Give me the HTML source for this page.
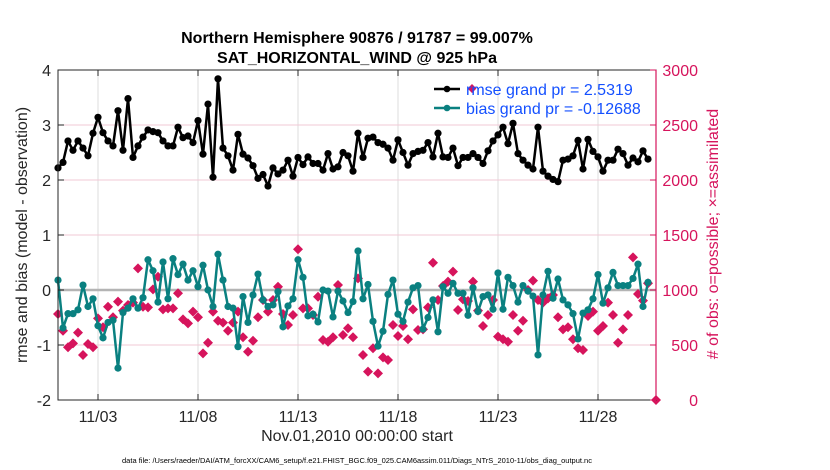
<!DOCTYPE html>
<html><head><meta charset="utf-8"><style>
body{margin:0;background:#fff;}
svg{display:block;font-family:"Liberation Sans",Arial,sans-serif;}
</style></head><body>
<svg id="chart" width="830" height="470" viewBox="0 0 830 470" xmlns="http://www.w3.org/2000/svg">
<rect width="830" height="470" fill="#fff"/>
<g id="grid"></g>
<g id="marks"></g>
<g id="axes"></g>
</svg>
<script>
const rmseVals=[2.22,2.32,2.71,2.54,2.71,2.58,2.44,2.85,3.14,2.86,2.71,2.62,3.26,2.54,3.48,2.41,2.62,2.78,2.91,2.88,2.86,2.71,2.62,2.62,2.96,2.77,2.80,2.68,3.08,2.47,3.38,2.05,3.84,2.58,2.44,2.18,2.83,2.47,2.40,2.26,2.03,2.10,1.89,2.22,2.11,2.18,2.36,2.07,2.41,2.28,2.42,2.30,2.30,2.18,2.48,2.20,2.24,2.50,2.44,2.16,2.85,
2.41,2.76,2.78,2.68,2.65,2.58,2.36,2.73,2.50,2.27,2.48,2.52,2.54,2.68,2.42,2.85,2.42,2.41,2.58,2.26,2.41,2.41,2.48,2.41,2.30,2.53,2.71,2.82,2.96,2.66,3.03,2.48,2.36,2.27,2.20,2.96,2.16,2.07,2.01,1.97,2.36,2.38,2.44,2.72,2.20,2.74,2.52,2.42,2.16,2.36,2.36,2.56,2.48,2.27,2.40,2.33,2.53,2.38];
const biasVals=[0.18,-0.69,-0.43,-0.43,-0.36,0.09,-0.30,-0.16,-0.65,-0.87,-0.59,-0.55,-1.42,-0.41,-0.33,-0.16,-0.33,-0.14,0.55,0.35,-0.22,0.51,-0.16,0.57,0.28,0.47,0.18,0.35,0.06,0.45,0.00,-0.30,0.65,0.18,-0.30,-0.33,-1.03,-0.12,-0.59,-0.09,0.29,-0.18,-0.30,-0.27,-0.03,-0.67,-0.29,-0.16,0.55,0.23,-0.47,-0.44,-0.58,0.00,-0.02,-0.49,-0.02,-0.20,-0.41,-0.21,0.71,
-0.16,0.10,-0.57,-1.02,-0.75,-0.08,0.18,-0.44,-0.57,-0.22,0.04,0.08,-0.71,-0.50,-0.18,-0.76,0.06,-0.06,0.12,-0.06,-0.06,-0.46,0.04,-0.39,-0.12,-0.09,-0.35,0.31,-0.35,0.23,0.08,-0.22,0.08,-0.02,-0.11,-1.18,-0.09,0.34,-0.15,0.20,-0.18,-0.27,-0.43,-0.89,-0.42,-0.36,-0.16,0.28,-0.24,0.04,0.32,0.08,0.08,0.08,0.21,0.47,-0.30,0.14];
const obsUsed=[782,630,479,515,612,409,509,479,742,661,848,752,894,812,864,885,1197,848,842,1006,1121,824,833,833,970,733,697,803,752,424,521,803,721,703,630,703,803,570,439,539,752,909,803,909,1030,782,682,773,1370,833,833,773,939,545,530,570,1045,591,652,570,1106,
409,258,470,242,388,364,682,582,673,552,824,636,642,842,1248,909,1036,1076,1167,818,915,900,1076,812,673,773,909,576,552,530,773,630,721,1000,1085,909,885,924,955,752,642,661,552,470,455,764,803,630,673,885,773,521,642,773,1297,964,903,1061];
const xTickLabels=["11/03","11/08","11/13","11/18","11/23","11/28"];
const xTickDays=[2,7,12,17,22,27];
const yLeftTicks=[4,3,2,1,0,-1,-2];
const yRightTicks=[3000,2500,2000,1500,1000,500,0];

const NS="http://www.w3.org/2000/svg";
const X0=58,X1=656,YT=70,YB=400;
const dayMin=0,dayMax=29.9;
function xs(d){return X0+(d-dayMin)/(dayMax-dayMin)*(X1-X0);}
function yl(v){return YB-(v+2)/6*(YB-YT);}
function yr(v){return YB-v/3000*(YB-YT);}
function mk(tag,attrs,parent,text){const e=document.createElementNS(NS,tag);for(const k in attrs)e.setAttribute(k,attrs[k]);if(text!==undefined)e.textContent=text;parent.appendChild(e);return e;}
const grid=document.getElementById('grid'),marks=document.getElementById('marks'),axes=document.getElementById('axes');
const MAG="#d6145c",TEAL="#0a8080";

xTickDays.forEach(d=>{const l=mk('line',{x1:xs(d),x2:xs(d),y1:YT,y2:YB,stroke:'#dcdcdc','stroke-width':1},grid);

});
yRightTicks.forEach(v=>{if(v===0||v===3000)return;const l=mk('line',{x1:X0,x2:X1,y1:yr(v),y2:yr(v),stroke:'#f2c8d6','stroke-width':1},grid);

});
const zl=mk('line',{x1:X0,x2:X1,y1:yl(0),y2:yl(0),stroke:'#b4b4b4','stroke-width':2.5},grid);



const dg=mk('g',{},marks);


obsUsed.forEach((v,i)=>{const x=xs(i*0.25),y=yr(v);
const p=mk('path',{d:`M${x} ${y-5}L${x+5} ${y}L${x} ${y+5}L${x-5} ${y}Z`,fill:MAG},dg);

});
const lastD=mk('path',{d:`M${X1} ${YB-5}L${X1+5} ${YB}L${X1} ${YB+5}L${X1-5} ${YB}Z`,fill:MAG},dg);



function series(vals,color,name){
const pts=vals.map((v,i)=>xs(i*0.25)+','+yl(v)).join(' ');
const g=mk('g',{},marks);


mk('polyline',{points:pts,fill:'none',stroke:color,'stroke-width':2.5,'stroke-linejoin':'round'},g);
vals.forEach((v,i)=>{const c=mk('circle',{cx:xs(i*0.25),cy:yl(v),r:3.6,fill:color},g);

});
}
series(biasVals,TEAL,'bias-series');
series(rmseVals,'#000','rmse-series');

mk('rect',{x:X0,y:YT,width:X1-X0,height:YB-YT,fill:'none',stroke:'#262626','stroke-width':1},axes);
mk('line',{x1:X1,x2:X1,y1:YT,y2:YB,stroke:MAG,'stroke-width':1.2},axes);
xTickDays.forEach((d,i)=>{mk('line',{x1:xs(d),x2:xs(d),y1:YB,y2:YB-6,stroke:'#262626'},axes);mk('line',{x1:xs(d),x2:xs(d),y1:YT,y2:YT+6,stroke:'#262626'},axes);
const t=mk('text',{x:xs(d),y:YB+22,'text-anchor':'middle','font-size':16,fill:'#262626'},axes,xTickLabels[i]);

});
yLeftTicks.forEach(v=>{mk('line',{x1:X0,x2:X0+6,y1:yl(v),y2:yl(v),stroke:'#262626'},axes);
const t=mk('text',{x:X0-7,y:yl(v)+6,'text-anchor':'end','font-size':16,fill:'#262626'},axes,String(v));

});
yRightTicks.forEach(v=>{mk('line',{x1:X1,x2:X1-6,y1:yr(v),y2:yr(v),stroke:MAG},axes);
const t=mk('text',{x:698,y:yr(v)+6,'text-anchor':'end','font-size':16,fill:MAG},axes,String(v));

});
</script>
<svg style="position:absolute;left:0;top:0" width="830" height="470">
<text x="357" y="43" text-anchor="middle" font-size="16" font-weight="bold" fill="#000" font-family="Liberation Sans, sans-serif">Northern Hemisphere 90876 / 91787 = 99.007%</text>
<text x="357" y="63" text-anchor="middle" font-size="16" font-weight="bold" fill="#000" font-family="Liberation Sans, sans-serif">SAT_HORIZONTAL_WIND @ 925 hPa</text>
<text transform="translate(27,235) rotate(-90)" text-anchor="middle" font-size="16" fill="#262626" font-family="Liberation Sans, sans-serif">rmse and bias (model - observation)</text>
<text transform="translate(718,234) rotate(-90)" text-anchor="middle" font-size="16" fill="#d6145c" font-family="Liberation Sans, sans-serif"># of obs: o=possible; ×=assimilated</text>
<text x="357" y="441" text-anchor="middle" font-size="16" fill="#262626" font-family="Liberation Sans, sans-serif">Nov.01,2010 00:00:00 start</text>
<text x="357" y="463" text-anchor="middle" font-size="7.5" fill="#000" font-family="Liberation Sans, sans-serif">data file: /Users/raeder/DAI/ATM_forcXX/CAM6_setup/f.e21.FHIST_BGC.f09_025.CAM6assim.011/Diags_NTrS_2010-11/obs_diag_output.nc</text>
<g>
<line x1="434" y1="89" x2="460" y2="89" stroke="#000" stroke-width="2.5"/><circle cx="447" cy="89" r="3.3" fill="#000"/>
<path d="M472 84L476.5 88.5L472 93L467.5 88.5Z" fill="#d6145c"/>
<text x="466" y="95" font-size="16" fill="#1450ff" font-family="Liberation Sans, sans-serif">rmse grand pr = 2.5319</text>
<line x1="434" y1="108" x2="460" y2="108" stroke="#0a8080" stroke-width="2.5"/><circle cx="447" cy="108" r="3.3" fill="#0a8080"/>
<text x="466" y="114" font-size="16" fill="#1450ff" font-family="Liberation Sans, sans-serif">bias grand pr = -0.12688</text>
</g>
</svg>
</body></html>
